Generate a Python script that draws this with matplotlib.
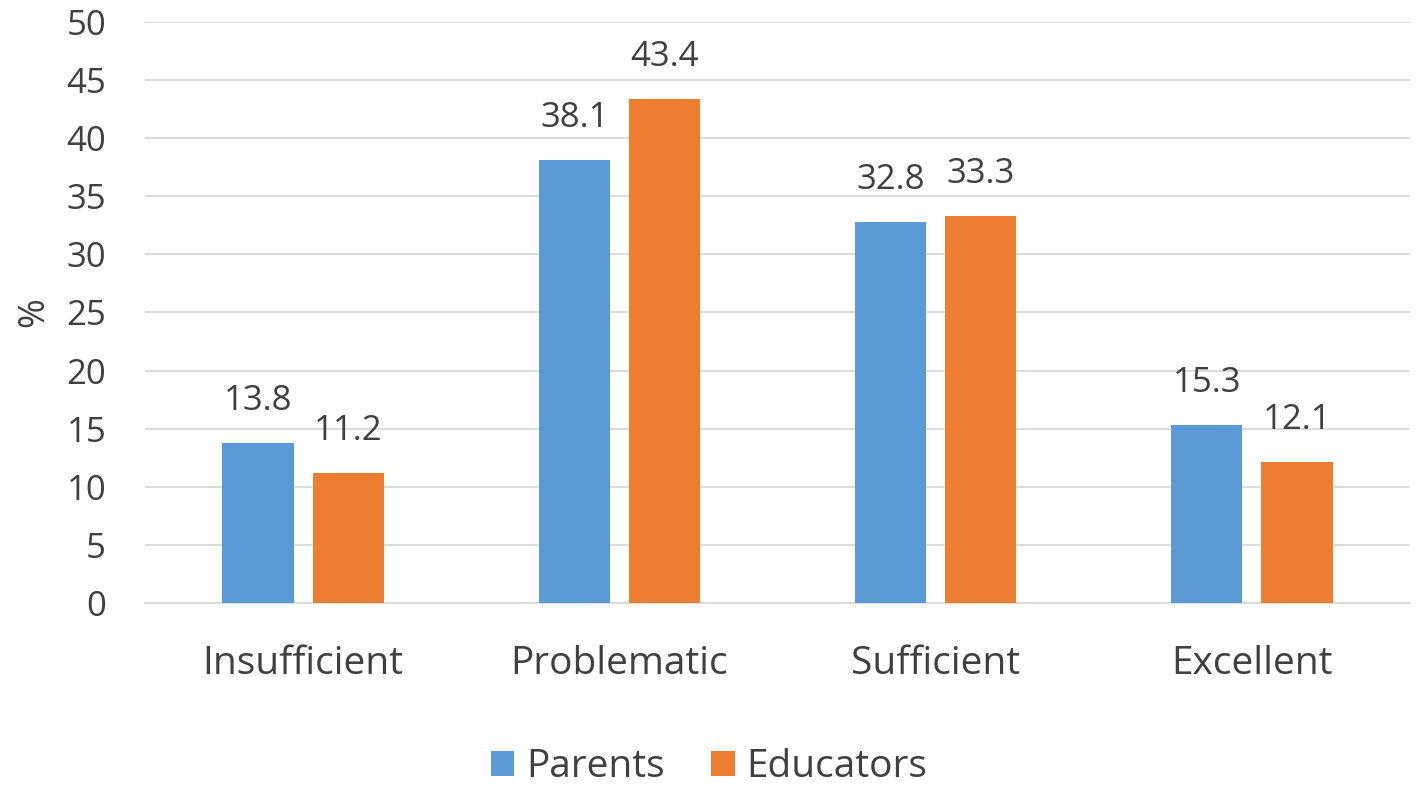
import numpy as np
import matplotlib
matplotlib.use("Agg")
from matplotlib import pyplot as plt

categories = ["Insufficient", "Problematic", "Sufficient", "Excellent"]
parents = [13.8, 38.1, 32.8, 15.3]
educators = [11.2, 43.4, 33.3, 12.1]

BLUE = "#5B9BD5"
ORANGE = "#ED7D31"
TXT = "#404040"

plt.rcParams['font.family'] = ['Open Sans', 'DejaVu Sans']

fig = plt.figure(figsize=(14.18, 7.9), dpi=100)
ax = fig.add_axes([145 / 1418, 1 - 603 / 790, 1265 / 1418, 581 / 790])

x = np.arange(len(categories))
w = 0.225
off = 0.1425
b1 = ax.bar(x - off, parents, w, color=BLUE, label="Parents", zorder=3)
b2 = ax.bar(x + off, educators, w, color=ORANGE, label="Educators", zorder=3)

for bars in (b1, b2):
    for r in bars:
        ax.annotate(f"{r.get_height():.1f}", (r.get_x() + r.get_width() / 2, r.get_height()),
                    xytext=(0, 18), textcoords="offset points", ha="center", va="bottom",
                    fontsize=25, color=TXT)

ax.set_xlim(-0.5, 3.5)
ax.set_ylim(0, 50)
ax.set_yticks(range(0, 51, 5))
ax.set_xticks(x)
ax.set_xticklabels(categories, fontsize=28, color=TXT)
ax.tick_params(axis="y", labelsize=25, labelcolor=TXT, length=0, pad=28)
ax.tick_params(axis="x", length=0, pad=30)
ax.grid(axis="y", color="#D9D9D9", linewidth=1.3, zorder=0)
for s in ["top", "right", "left"]:
    ax.spines[s].set_visible(False)
ax.spines["bottom"].set_color("#D9D9D9")
ax.spines["bottom"].set_linewidth(1.3)
ax.set_ylabel("%", fontsize=26, color=TXT, labelpad=10)

fig.legend(loc="lower center", bbox_to_anchor=(0.5, -0.015), ncol=2, frameon=False,
           fontsize=28, labelcolor=TXT, handlelength=0.6, handleheight=0.6,
           columnspacing=1.2, handletextpad=0.3, borderaxespad=0.0)

fig.savefig("out.png", dpi=100)
